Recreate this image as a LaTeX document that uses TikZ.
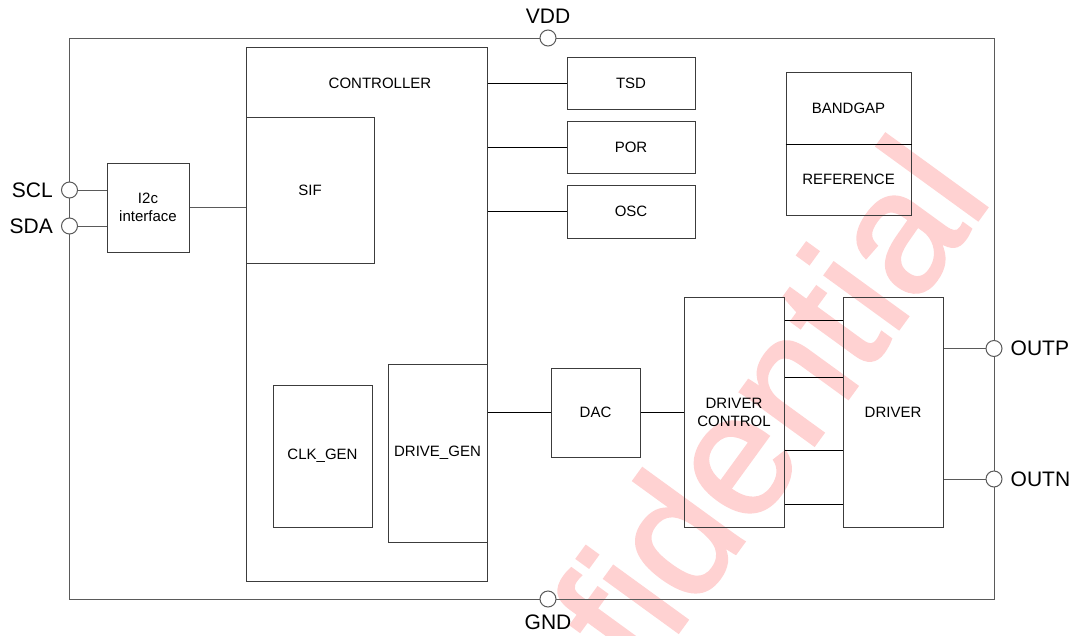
\documentclass[tikz,border=0pt]{standalone}
\usepackage{fontspec}
\setmainfont{Liberation Sans}
\newfontfamily\stampfont[FakeBold=1.5]{Liberation Sans}
\usepackage{xcolor}
\usepackage{tikz}
\usetikzlibrary{positioning, calc}
\definecolor{frameline}{RGB}{90,90,90}
\definecolor{boxline}{RGB}{60,60,60}
\definecolor{stamp}{RGB}{255,210,210}
\tikzset{
  block/.style={
    rectangle, draw=boxline, line width=1pt, fill=none,
    inner sep=0pt, align=center, font=\fontsize{15}{18}\selectfont
  },
  frame/.style={draw=frameline, line width=1pt},
  wire/.style={draw=black, line width=1pt},
  pin/.style={circle, draw=frameline, fill=white, line width=1pt, minimum size=16pt, inner sep=0pt},
  pinlabel/.style={font=\fontsize{21}{24}\selectfont, inner sep=0pt},
  stamptext/.style={text=stamp, font=\stampfont\fontsize{173}{173}\selectfont, inner sep=0pt},
}

\begin{document}
\begin{tikzpicture}[x=1pt, y=-1pt]
  \useasboundingbox (0,0) rectangle (1077,635);
  % watermark behind everything
  \begin{scope}
    \clip (0,0) rectangle (1077,635);
    \node[stamptext, rotate=54, anchor=base east] (mark) at (994,198) {fidential};
  \end{scope}

  \node[frame, rectangle, minimum width=925pt, minimum height=561pt, inner sep=0pt] (chip) at (531.5,318.5) {};

  % controller and its sub blocks
  \node[block, minimum width=241pt, minimum height=534pt] (ctrl) at (366.5,314) {};
  \node[font=\fontsize{15}{18}\selectfont, inner sep=0pt] (ctrllbl) at (380,83) {CONTROLLER};
  \node[block, minimum width=128pt, minimum height=146pt] (sif) at (310,190) {SIF};
  \node[block, minimum width=99pt, minimum height=142pt] (clk) at (322.5,456) {CLK\_GEN};
  \node[block, minimum width=99pt, minimum height=178pt] (dgen) at (437.5,453) {DRIVE\_GEN};

  \node[block, minimum width=82pt, minimum height=89pt] (i2c) at (148,207.5) {I2c\\interface};

  \node[block, minimum width=128pt, minimum height=52pt] (tsd) at (631,83) {TSD};
  \node[block, minimum width=128pt, minimum height=52pt] (por) at (631,147) {POR};
  \node[block, minimum width=128pt, minimum height=53pt] (osc) at (631,211.5) {OSC};

  \node[block, minimum width=125pt, minimum height=72pt] (bgap) at (848.5,108) {BANDGAP};
  \node[block, minimum width=125pt, minimum height=71pt] (ref) at (848.5,179.5) {REFERENCE};
  \draw[wire] (bgap.south west) -- (bgap.south east);

  \node[block, minimum width=89pt, minimum height=89pt] (dac) at (595.5,412.5) {DAC};
  \node[block, minimum width=100pt, minimum height=230pt] (drvctl) at (734,412) {DRIVER\\CONTROL};
  \node[block, minimum width=100pt, minimum height=230pt] (drv) at (893,412) {DRIVER};

  % pins
  \node[pin] (vdd) at (548,38) {};
  \node[pin] (gnd) at (548,599) {};
  \node[pin] (scl) at (69.5,190) {};
  \node[pin] (sda) at (69.5,226) {};
  \node[pin] (outp) at (994,348.5) {};
  \node[pin] (outn) at (994,479) {};
  \node[pinlabel, above=6pt of vdd] (vddlbl) {VDD};
  \node[pinlabel, below=7pt of gnd] (gndlbl) {GND};
  \node[pinlabel, left=8pt of scl] (scllbl) {SCL};
  \node[pinlabel, left=8pt of sda] (sdalbl) {SDA};
  \node[pinlabel, right=8pt of outp] (outplbl) {OUTP};
  \node[pinlabel, right=8pt of outn] (outnlbl) {OUTN};

  % connections
  \draw[frame] (scl) -- (scl -| i2c.west);
  \draw[frame] (sda) -- (sda -| i2c.west);
  \draw[frame] (i2c.east) -- (i2c.east -| sif.west);
  \foreach \blk in {tsd, por, osc}
    \draw[wire] (\blk.west -| ctrl.east) -- (\blk.west);
  \draw[wire] (dac.west -| dgen.east) -- (dac.west);
  \draw[wire] (dac.east) -- (dac.east -| drvctl.west);
  \foreach \yy in {320, 377, 450, 504}
    \draw[wire] (drvctl.east |- 0,\yy) -- (drv.west |- 0,\yy);
  \draw[frame] (outp -| drv.east) -- (outp);
  \draw[frame] (outn -| drv.east) -- (outn);
\end{tikzpicture}
\end{document}
